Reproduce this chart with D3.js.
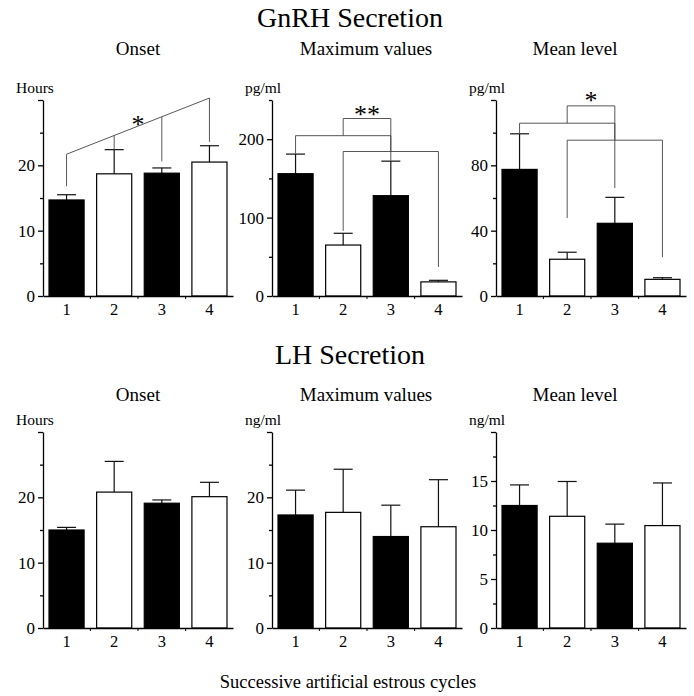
<!DOCTYPE html>
<html>
<head>
<meta charset="utf-8">
<script src="https://cdn.jsdelivr.net/npm/d3@7/dist/d3.min.js"></script>
<style>
  html, body { margin: 0; padding: 0; background: #fff; }
  svg { display: block; }
</style>
</head>
<body>
<svg id="chart" width="694" height="696"></svg>
<script>
// Successive artificial estrous cycles
const categories = ["1", "2", "3", "4"];

// GnRH secretion: means and SEM
const gnrhOnset = [14.7, 18.7, 18.8, 20.5];
const gnrhOnsetSem = [0.8, 3.7, 0.8, 2.5];
const gnrhMax = [156, 65, 128, 18];
const gnrhMaxSem = [25, 15, 44, 2];
const gnrhMean = [77.5, 22.5, 44.5, 10.2];
const gnrhMeanSem = [21.8, 4.3, 15.9, 1.0];

// LH secretion: means and SEM
const lhOnset = [15.0, 20.8, 19.1, 20.1];
const lhOnsetSem = [0.4, 4.7, 0.5, 2.2];
const lhMax = [17.3, 17.7, 14.0, 15.5];
const lhMaxSem = [3.8, 6.6, 4.8, 7.2];
const lhMean = [12.5, 11.4, 8.65, 10.45];
const lhMeanSem = [2.1, 3.55, 1.95, 4.35];

// Axis settings: [max, tick step, labelled step]
const onsetAxis = [30, 5, 10];
const gnrhMaxAxis = [250, 50, 100];
const gnrhMeanAxis = [120, 20, 40];
const lhMaxAxis = [30, 5, 10];
const lhMeanAxis = [20, 2.5, 5];

// Significance: GnRH onset, cycle 1 vs 2-4 (values in hours)
const onsetLinkRise = [21.7, 30.3];      // at cycle 1, at cycle 4
const onsetLinkLegEnds = [16.8, 22.5, 20.6, 23.6];
const onsetLinkLabel = ["*", 26.6];

// Significance: pairs (1,3) and (2,4) joined by a higher bracket
const maxPairs = [["1", "3", 204.5, 181.5, 172.6], ["2", "4", 184.3, 83, 37]];
const maxJoin = [226.4, "**", 235];
const meanPairs = [["1", "3", 105.8, 99.2, 66.1], ["2", "4", 95.4, 47.8, 23.8]];
const meanJoin = [116.4, "*", 121];

const rowTitles = ["GnRH Secretion", "LH Secretion"];
const panelTitles = ["Onset", "Maximum values", "Mean level"];
const xTitle = "Successive artificial estrous cycles";

const FONT = "'Liberation Serif', 'Times New Roman', serif";
const svg = d3.select("#chart");

const colX = [43, 272, 496];
const colTitleX = [138, 366, 575];
const plotW = 190;
const rows = [
  { top: 100, bottom: 296, titleY: 27, subY: 55 },
  { top: 432, bottom: 628, titleY: 364, subY: 401 }
];

const panels = [
  { row: 0, col: 0, values: gnrhOnset, sem: gnrhOnsetSem, axis: onsetAxis, unit: "Hours" },
  { row: 0, col: 1, values: gnrhMax, sem: gnrhMaxSem, axis: gnrhMaxAxis, unit: "pg/ml", pairs: maxPairs, join: maxJoin },
  { row: 0, col: 2, values: gnrhMean, sem: gnrhMeanSem, axis: gnrhMeanAxis, unit: "pg/ml", pairs: meanPairs, join: meanJoin },
  { row: 1, col: 0, values: lhOnset, sem: lhOnsetSem, axis: onsetAxis, unit: "Hours" },
  { row: 1, col: 1, values: lhMax, sem: lhMaxSem, axis: lhMaxAxis, unit: "ng/ml" },
  { row: 1, col: 2, values: lhMean, sem: lhMeanSem, axis: lhMeanAxis, unit: "ng/ml" }
];

function drawPanel(p) {
  const r = rows[p.row];
  const g = svg.append("g").attr("transform", `translate(${colX[p.col]},0)`);
  const x = d3.scaleBand().domain(categories).range([0, plotW])
    .paddingInner(0.263).paddingOuter(0.126);
  const [ymax, ystep, ymajor] = p.axis;
  const y = d3.scaleLinear().domain([0, ymax]).range([r.bottom, r.top]);
  const cx = c => x(c) + x.bandwidth() / 2;

  // error bars (upper half only)
  const err = g.append("g").attr("stroke", "#111").attr("stroke-width", 1.2);
  categories.forEach((c, i) => {
    const top = y(p.values[i] + p.sem[i]);
    err.append("line").attr("x1", cx(c)).attr("x2", cx(c))
      .attr("y1", y(p.values[i])).attr("y2", top);
    err.append("line").attr("x1", cx(c) - 9.5).attr("x2", cx(c) + 9.5)
      .attr("y1", top).attr("y2", top);
  });

  // bars: odd cycles solid, even cycles open
  g.selectAll("rect.bar").data(categories).join("rect")
    .attr("class", "bar")
    .attr("x", d => x(d))
    .attr("y", (d, i) => y(p.values[i]))
    .attr("width", x.bandwidth())
    .attr("height", (d, i) => y(0) - y(p.values[i]))
    .attr("fill", (d, i) => i % 2 === 0 ? "#000" : "#fff")
    .attr("stroke", "#000")
    .attr("stroke-width", 1.2);

  // y axis with short unlabelled minor ticks
  const ticks = d3.range(0, ymax + ystep / 2, ystep);
  const isMajor = v => Math.abs(v / ymajor - Math.round(v / ymajor)) < 1e-6;
  const yAxis = d3.axisLeft(y).tickValues(ticks)
    .tickFormat(v => (isMajor(v) && v < ymax) ? d3.format("~g")(v) : "")
    .tickSize(5).tickSizeOuter(0).tickPadding(3);
  const ya = g.append("g").call(yAxis);
  ya.selectAll(".tick line").attr("x2", v => isMajor(v) ? -5 : -3);
  ya.selectAll("path, line").attr("stroke", "#000").attr("stroke-width", 1.3);
  ya.selectAll("text").attr("font-family", FONT).attr("font-size", 17).attr("fill", "#000");

  // x axis with marks between the bars
  const xAxis = d3.axisBottom(x).tickSize(0).tickSizeOuter(0).tickPadding(7);
  const xa = g.append("g").attr("transform", `translate(0,${r.bottom})`).call(xAxis);
  xa.select("path").attr("stroke", "#000").attr("stroke-width", 1.3);
  xa.selectAll("text").attr("font-family", FONT).attr("font-size", 16.5).attr("fill", "#000");
  categories.slice(1).forEach(c => {
    const ex = x(c) - x.step() * x.paddingInner() / 2;
    xa.append("line").attr("x1", ex).attr("x2", ex).attr("y1", 0).attr("y2", 3)
      .attr("stroke", "#000").attr("stroke-width", 1);
  });

  // unit label
  g.append("text").attr("x", -27).attr("y", r.top - 7)
    .attr("font-family", FONT).attr("font-size", 15.5).text(p.unit);

  // panel title
  svg.append("text").attr("x", colTitleX[p.col]).attr("y", r.subY)
    .attr("text-anchor", "middle").attr("font-family", FONT).attr("font-size", 19)
    .text(panelTitles[p.col]);

  const sig = g.append("g").attr("fill", "none").attr("stroke", "#444").attr("stroke-width", 0.9);
  const star = (txt, sx, v) => g.append("text").attr("x", sx).attr("y", y(v) + 11)
    .attr("text-anchor", "middle").attr("font-family", FONT).attr("font-size", 26)
    .attr("fill", "#000").text(txt);

  if (p.row === 0 && p.col === 0) {
    const x1 = cx("1"), x4 = cx("4");
    const levelAt = px => onsetLinkRise[0] + (onsetLinkRise[1] - onsetLinkRise[0]) * (px - x1) / (x4 - x1);
    sig.append("path").attr("d", d3.line()([
      [x1, y(onsetLinkLegEnds[0])], [x1, y(onsetLinkRise[0])], [x4, y(onsetLinkRise[1])]
    ]));
    categories.slice(1).forEach((c, i) => {
      sig.append("line").attr("x1", cx(c)).attr("x2", cx(c))
        .attr("y1", y(levelAt(cx(c)))).attr("y2", y(onsetLinkLegEnds[i + 1]));
    });
    star(onsetLinkLabel[0], (cx("2") + cx("3")) / 2, onsetLinkLabel[1]);
  }

  if (p.pairs) {
    const mids = p.pairs.map(([a, b, level, endA, endB]) => {
      sig.append("path").attr("d", d3.line()([
        [cx(a), y(endA)], [cx(a), y(level)], [cx(b), y(level)], [cx(b), y(endB)]
      ]));
      return [(cx(a) + cx(b)) / 2, level];
    });
    const [joinLevel, label, labelV] = p.join;
    sig.append("path").attr("d", d3.line()([
      [mids[0][0], y(mids[0][1])], [mids[0][0], y(joinLevel)],
      [mids[1][0], y(joinLevel)], [mids[1][0], y(mids[1][1])]
    ]));
    star(label, (mids[0][0] + mids[1][0]) / 2, labelV);
  }
}

panels.forEach(drawPanel);

// row titles and common x title
rows.forEach((r, i) => {
  svg.append("text").attr("x", 350).attr("y", r.titleY)
    .attr("text-anchor", "middle").attr("font-family", FONT).attr("font-size", 28)
    .text(rowTitles[i]);
});
svg.append("text").attr("x", 348).attr("y", 688)
  .attr("text-anchor", "middle").attr("font-family", FONT).attr("font-size", 18.5)
  .text(xTitle);
</script>
</body>
</html>
